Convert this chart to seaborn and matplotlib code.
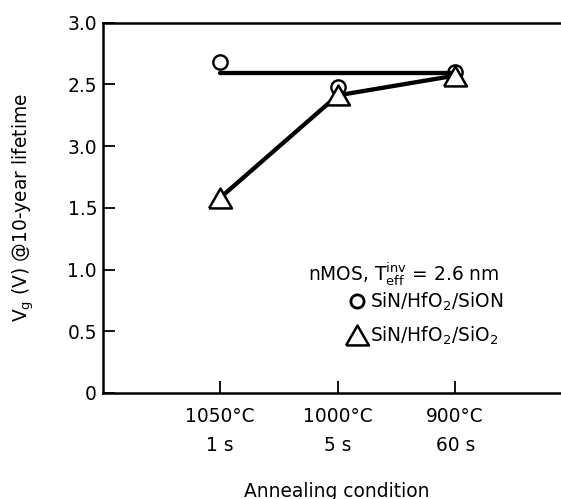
import matplotlib
matplotlib.use("Agg")
import matplotlib.pyplot as plt
import seaborn as sns
import pandas as pd
from matplotlib.lines import Line2D

# Annealing conditions (temperature / time) on the x axis
temps = ["1050°C", "1000°C", "900°C"]
times = ["1 s", "5 s", "60 s"]

# Gate voltage for a 10-year lifetime (V)
sion_vg = [2.68, 2.48, 2.60]   # SiN/HfO2/SiON
sio2_vg = [1.58, 2.41, 2.57]   # SiN/HfO2/SiO2

# Flat guide line through the SiON data, from 1050°C to 900°C
sion_guide_idx = [0, 2]
sion_guide_vg = [2.59, 2.59]

ytick_values = [0, 0.5, 1.0, 1.5, 2.0, 2.5, 3.0]
ytick_labels = ["0", "0.5", "1.0", "1.5", "3.0", "2.5", "3.0"]

sns.set_style("ticks")
plt.rcParams.update({
    "font.family": ["DejaVu Sans"],
    "mathtext.fontset": "dejavusans",
    "text.color": "black",
    "axes.labelcolor": "black",
    "xtick.color": "black",
    "ytick.color": "black",
    "xtick.direction": "in",
    "ytick.direction": "in",
})
FS = 13.4

pos = list(range(len(temps)))
df_sion = pd.DataFrame({"pos": pos, "vg": sion_vg})
df_sio2 = pd.DataFrame({"pos": pos, "vg": sio2_vg})
df_guide = pd.DataFrame({"pos": sion_guide_idx, "vg": sion_guide_vg})

# open triangle with its bounding box centred on the data point
tri = [(-1, -0.866), (1, -0.866), (0, 0.866), (-1, -0.866)]

W, H = 561, 499
fig = plt.figure(figsize=(W / 100, H / 100), dpi=100)
ax = fig.add_axes([103 / W, 106 / H, 458 / W, 370.5 / H])

sns.lineplot(data=df_sion, x="pos", y="vg", ax=ax, linestyle="none",
             marker="o", markersize=10.3, markerfacecolor="white",
             markeredgecolor="black", markeredgewidth=1.7, zorder=2)
sns.lineplot(data=df_guide, x="pos", y="vg", ax=ax, color="black",
             linewidth=3.1, zorder=3)
sns.lineplot(data=df_sio2, x="pos", y="vg", ax=ax, color="black",
             linewidth=3.1, marker=tri, markersize=16.5,
             markerfacecolor="white", markeredgecolor="black",
             markeredgewidth=1.8, zorder=4)

ax.set_xlim(-0.996, 2.9)
ax.set_ylim(0, 3.0)
ax.set_xticks(pos)
ax.set_xticklabels([f"{t}\n{s}" for t, s in zip(temps, times)],
                   fontsize=FS, linespacing=1.7)
ax.set_yticks(ytick_values)
ax.set_yticklabels(ytick_labels, fontsize=FS)
ax.set_xlabel("")
ax.set_ylabel("")

ax.spines["right"].set_visible(False)
for side in ("left", "bottom", "top"):
    ax.spines[side].set_linewidth(1.8)
    ax.spines[side].set_color("black")
ax.tick_params(axis="both", which="major", direction="in", length=8.6,
               width=1.3, colors="black", top=False, right=False)
ax.tick_params(axis="x", pad=10)
ax.tick_params(axis="y", pad=4.3)

fig.text(23 / W, 1 - 208 / H, r"$\mathrm{V}_\mathrm{g}$ (V) @10-year lifetime",
         rotation=90, ha="center", va="center", fontsize=FS)
fig.text(337 / W, 1 - 497 / H, "Annealing condition",
         ha="center", va="baseline", fontsize=FS)

fig.text(308 / W, 1 - 280 / H,
         r"nMOS, $\mathrm{T}_\mathrm{eff}^\mathrm{inv}$ = 2.6 nm",
         ha="left", va="baseline", fontsize=FS)

handles = [
    Line2D([], [], linestyle="none", marker="o", markersize=9.5,
           markerfacecolor="white", markeredgecolor="black",
           markeredgewidth=2.0),
    Line2D([], [], linestyle="none", marker=tri, markersize=16.5,
           markerfacecolor="white", markeredgecolor="black",
           markeredgewidth=1.8),
]
labels = [r"SiN/HfO$_2$/SiON", r"SiN/HfO$_2$/SiO$_2$"]
fig.legend(handles, labels, loc="upper left",
           bbox_to_anchor=(347.7 / W, 1 - 291 / H),
           bbox_transform=fig.transFigure, frameon=False, fontsize=FS,
           handlelength=1.0, handletextpad=0.2, borderpad=0,
           borderaxespad=0, labelspacing=0.6, numpoints=1)

fig.savefig("out.png", dpi=100)
